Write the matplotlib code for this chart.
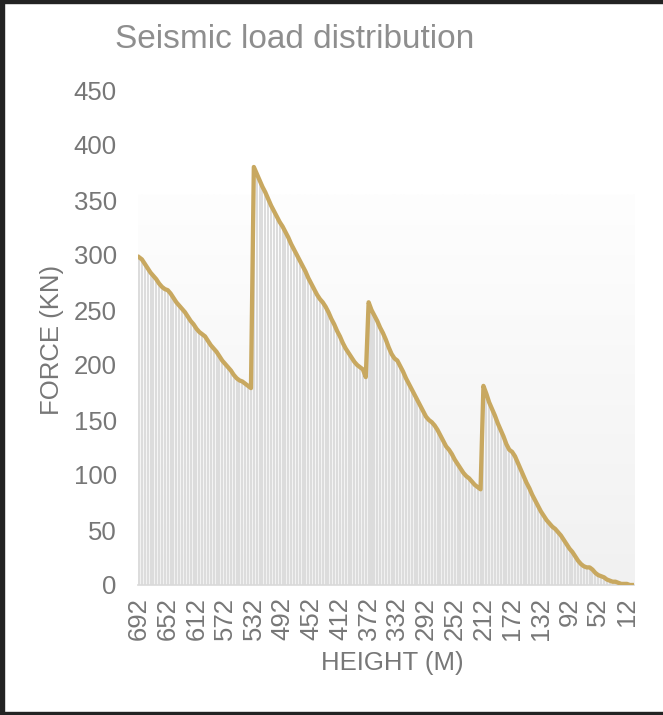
import numpy as np
import matplotlib
matplotlib.use("Agg")
import matplotlib.pyplot as plt
from matplotlib.patches import Rectangle

plt.rcParams['font.family'] = ['Liberation Sans', 'DejaVu Sans']

# heights (m), top of the building first
heights = list(range(692, 0, -4))

# seismic force per level (kN)
forces = [
    298, 296, 292, 288, 284, 281, 278, 274, 271, 269,
    268, 265, 261, 257, 254, 251, 248, 244, 240, 237,
    233, 230, 228, 226, 222, 218, 215, 212, 208, 204,
    201, 198, 195, 191, 188, 186, 185, 183, 181, 179,
    380, 374, 368, 362, 357, 351, 345, 340, 335, 330,
    326, 321, 316, 310, 305, 300, 295, 290, 285, 279,
    274, 269, 264, 260, 257, 253, 248, 242, 237, 231,
    226, 220, 215, 211, 207, 203, 200, 198, 196, 189,
    257, 250, 245, 240, 234, 229, 223, 216, 210, 206,
    204, 199, 194, 188, 183, 178, 173, 168, 163, 158,
    153, 150, 148, 145, 141, 136, 131, 126, 123, 119,
    114, 110, 106, 102, 99, 97, 94, 91, 89, 87,
    181, 174, 166, 160, 154, 147, 141, 135, 128, 123,
    121, 117, 111, 105, 99, 93, 88, 82, 77, 72,
    67, 63, 59, 56, 53, 51, 48, 45, 41, 37,
    33, 30, 26, 22, 19, 17, 16, 16, 14, 11,
    9, 8, 7, 5, 4, 3, 3, 2, 1, 1,
    1, 0, 0,
]

y_ticks = [0, 50, 100, 150, 200, 250, 300, 350, 400, 450]

W, H = 663, 715
fig = plt.figure(figsize=(W / 100, H / 100), dpi=100)
ax = fig.add_axes([137.6 / W, 130 / H, 496.5 / W, 495 / H])

idx = np.arange(len(heights))
n = len(heights)

# soft grey gradient behind the data (grey at the bottom, white at the top)
grad = np.linspace(0.0, 1.0, 256).reshape(-1, 1)
cmap = matplotlib.colors.LinearSegmentedColormap.from_list('g', ['#f1f1f1', '#fefefe'])
ax.imshow(grad, cmap=cmap, aspect='auto',
          extent=(-0.5, n - 0.5, 0, 355), origin='lower', zorder=0)

ax.bar(idx, forces, width=0.7, color='#dcdcdc', zorder=1)
ax.plot(idx, forces, color='#c8a860', lw=3.1, zorder=3, solid_joinstyle='round')

ax.set_xlim(-0.5, n - 0.5)
ax.set_ylim(0, 450)
ax.set_yticks(y_ticks)
ax.set_xticks(idx[::10])
ax.set_xticklabels([str(h) for h in heights[::10]], rotation=90)

for s in ['top', 'right', 'left']:
    ax.spines[s].set_visible(False)
ax.spines['bottom'].set_color('#d9d9d9')
ax.spines['bottom'].set_linewidth(1.2)
ax.tick_params(axis='both', length=0, labelsize=18.5, colors='#777777')
ax.tick_params(axis='y', pad=15)
ax.tick_params(axis='x', pad=9)

fig.text(52 / W, 1 - 340 / H, 'FORCE (KN)', rotation=90, ha='center', va='center',
         fontsize=18.5, color='#777777')
fig.text(392 / W, 1 - 663 / H, 'HEIGHT (M)', ha='center', va='center',
         fontsize=18.5, color='#777777')
fig.text(295 / W, 1 - 39 / H, 'Seismic load distribution', ha='center', va='center',
         fontsize=24, color='#8e8e8e')

# dark frame around the screenshot
for x0, y0, w, h in [(0, 0, 4, H), (0, H - 3, W, 3), (0, 0, W, 3)]:
    fig.patches.append(Rectangle((x0 / W, y0 / H), w / W, h / H, transform=fig.transFigure,
                                 color='#232323', zorder=10))

fig.savefig('out.png', dpi=100)
